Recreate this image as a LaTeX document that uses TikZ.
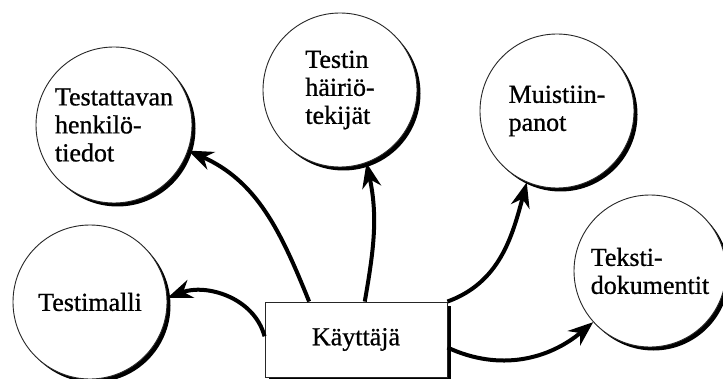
\documentclass[tikz,border=0pt]{standalone}
\usepackage{fontspec}
\setmainfont[FakeBold=0.8]{Liberation Serif}
\usetikzlibrary{arrows.meta,shadows}
\begin{document}
\begin{tikzpicture}[x=1pt,y=1pt,
  shade3/.style={drop shadow={shadow xshift=3.5pt,shadow yshift=-3.5pt,fill=black,opacity=1}},
  bubble/.style={circle,draw=black!85,line width=0.9pt,fill=white,inner sep=0pt,
    align=left,font=\fontsize{26}{28}\selectfont,shade3},
  userbox/.style={rectangle,draw=black!85,line width=0.9pt,fill=white,
    minimum width=182pt,minimum height=75pt,inner sep=0pt,
    font=\fontsize{26}{28}\selectfont,shade3},
  flow/.style={line width=4pt,-{Stealth[length=25pt,width=19pt,inset=8pt]}}]
\useasboundingbox (0,0) rectangle (723,378);

% data stores around the user
\node[bubble,minimum size=156pt] (henk)   at (114,253) {Testattavan\\henkilö-\\tiedot};
\node[bubble,minimum size=154pt] (hair)   at (340,288) {Testin\\häiriö-\\tekijät};
\node[bubble,minimum size=154pt] (muist)  at (557,267) {Muistiin-\\panot};
\node[bubble,minimum size=154pt] (malli)  at (90,76)   {Testimalli};
\node[bubble,minimum size=152pt] (teksti) at (650,107) {Teksti-\\dokumentit};

% the user
\node[userbox] (user) at (356,38.5) {Käyttäjä};

% flows from the user
\draw[flow] (user.141) to[out=112,in=-24] (henk.-19);
\draw[flow] (user.77) to[out=80,in=-78] (hair.-70);
\draw[flow] (user.north east) to[out=20,in=-105] (muist.-113);
\draw[flow] (user.-5) to[out=-25,in=-140] (teksti.-138);
\draw[flow] (user.178) to[out=105,in=21] (malli.3);
\end{tikzpicture}
\end{document}
